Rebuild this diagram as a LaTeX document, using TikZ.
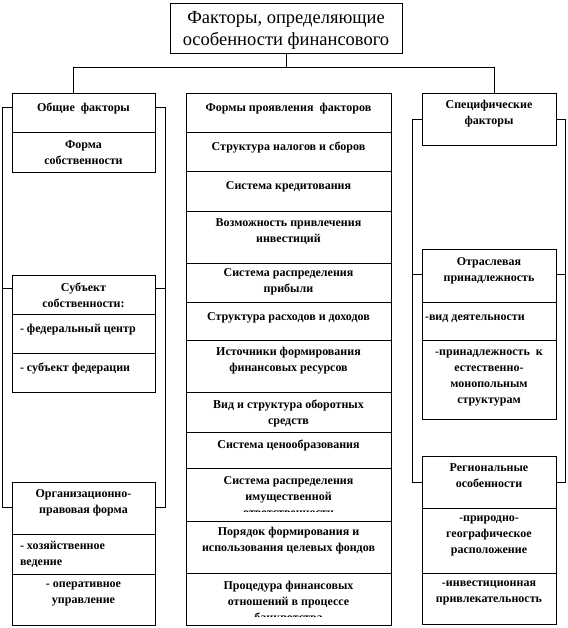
\documentclass[tikz,border=0pt]{standalone}
\usepackage{fontspec}
\setmainfont{Liberation Serif}
\newcommand\mkcell[5]{%
  \node[cellbox, anchor=north west, minimum width={#4-#2}, minimum height={#5-#3}] (#1) at (#2,#3) {};}
\begin{document}
\begin{tikzpicture}[x=1pt,y=-1pt, line width=0.8pt,
  cellbox/.style={draw, rectangle, inner sep=0pt, outer sep=0pt},
  ctext/.style={inner sep=0pt, outer sep=0pt, align=center,
    font=\bfseries\fontsize{12}{16}\selectfont, execute at begin node=\strut},
  ltext/.style={ctext, align=left},
  ttext/.style={inner sep=0pt, outer sep=0pt, align=center,
    font=\fontsize{18.5}{22}\selectfont},
  conn/.style={line width=0.8pt}]
\useasboundingbox (0,0) rectangle (567,628);

% title
\node[cellbox, anchor=north west, minimum width=232, minimum height=50] (title) at (170,3) {};
\node[ttext] (title-t) at ([yshift=-2pt]title.center) {Факторы, определяющие\\особенности финансового};

% left column
\mkcell{a1}{12}{93}{155}{132}
\mkcell{a2}{12}{132}{155}{172}
\mkcell{b1}{12}{275}{155}{314}
\mkcell{b2}{12}{314}{155}{353}
\mkcell{b3}{12}{353}{155}{392}
\mkcell{c1}{12}{482}{155}{534}
\mkcell{c2}{12}{534}{155}{574}
\mkcell{c3}{12}{574}{155}{625}
\node[ctext, anchor=north] (a1-t) at ([yshift=-7.5pt]a1.north) {Общие \ факторы};
\node[ctext, anchor=north] (a2-t) at ([yshift=-8.5pt]a2.north) {Форма\\собственности};
\node[ctext, anchor=north] (b1-t) at ([yshift=-7.5pt]b1.north) {Субъект\\собственности:};
\node[ltext, anchor=north west] (b2-t) at ([xshift=8pt,yshift=-7.5pt]b2.north west) {- федеральный центр};
\node[ltext, anchor=north west] (b3-t) at ([xshift=8pt,yshift=-7.5pt]b3.north west) {- субъект федерации};
\node[ctext, anchor=north] (c1-t) at ([yshift=-7.5pt]c1.north) {Организационно-\\правовая форма};
\node[ltext, anchor=north west] (c2-t) at ([xshift=8pt,yshift=-7.5pt]c2.north west) {- хозяйственное\\ведение};
\node[ctext, anchor=north] (c3-t) at ([yshift=-7.5pt]c3.north) {- оперативное\\управление};

% center column
\mkcell{m1}{186}{93}{391}{132}
\mkcell{m2}{186}{132}{391}{171}
\mkcell{m3}{186}{171}{391}{211}
\mkcell{m4}{186}{211}{391}{263}
\mkcell{m5}{186}{263}{391}{302}
\mkcell{m6}{186}{302}{391}{340}
\mkcell{m7}{186}{340}{391}{392}
\mkcell{m8}{186}{392}{391}{432}
\mkcell{m9}{186}{432}{391}{468}
\mkcell{m10}{186}{468}{391}{521}
\mkcell{m11}{186}{521}{391}{573}
\mkcell{m12}{186}{573}{391}{625}
\node[ctext, anchor=north] (m1-t) at ([yshift=-7.5pt]m1.north) {Формы проявления \ факторов};
\node[ctext, anchor=north] (m2-t) at ([yshift=-7.5pt]m2.north) {Структура налогов и сборов};
\node[ctext, anchor=north] (m3-t) at ([yshift=-7.5pt]m3.north) {Система кредитования};
\node[ctext, anchor=north] (m4-t) at ([yshift=-7.5pt]m4.north) {Возможность привлечения\\инвестиций};
\node[ctext, anchor=north] (m5-t) at ([yshift=-5.5pt]m5.north) {Система распределения\\прибыли};
\node[ctext, anchor=north] (m6-t) at ([yshift=-7.5pt]m6.north) {Структура расходов и доходов};
\node[ctext, anchor=north] (m7-t) at ([yshift=-7.5pt]m7.north) {Источники формирования\\финансовых ресурсов};
\node[ctext, anchor=north] (m8-t) at ([yshift=-7.5pt]m8.north) {Вид и структура оборотных\\средств};
\node[ctext, anchor=north] (m9-t) at ([yshift=-5pt]m9.north) {Система ценообразования};
\begin{scope}
  \clip (186,468) rectangle (391,511);
  \node[ctext, anchor=north] (m10-t) at ([yshift=-8.5pt]m10.north) {Система распределения\\имущественной\\ответственности};
\end{scope}
\node[ctext, anchor=north] (m11-t) at ([yshift=-6pt]m11.north) {Порядок формирования и\\использования целевых фондов};
\begin{scope}
  \clip (186,573) rectangle (391,616);
  \node[ctext, anchor=north] (m12-t) at ([yshift=-8.5pt]m12.north) {Процедура финансовых\\отношений в процессе\\банкротства};
\end{scope}

% right column
\mkcell{d1}{422}{93}{556}{145}
\mkcell{e1}{422}{249}{556}{302}
\mkcell{e2}{422}{302}{556}{340}
\mkcell{e3}{422}{340}{556}{419}
\mkcell{f1}{422}{456}{556}{508}
\mkcell{f2}{422}{508}{556}{573}
\mkcell{f3}{422}{573}{556}{624}
\node[ctext, anchor=north] (d1-t) at ([yshift=-7.5pt]d1.north) {Специфические\\факторы};
\node[ctext, anchor=north] (e1-t) at ([yshift=-8.5pt]e1.north) {Отраслевая\\принадлежность};
\node[ltext, anchor=north west] (e2-t) at ([xshift=3pt,yshift=-7.5pt]e2.north west) {-вид деятельности};
\node[ctext, anchor=north] (e3-t) at ([yshift=-10pt]e3.north) {-принадлежность \ к\\естественно-\\монопольным\\структурам};
\node[ctext, anchor=north] (f1-t) at ([yshift=-7.5pt]f1.north) {Региональные\\особенности};
\node[ctext, anchor=north] (f2-t) at ([yshift=-7.5pt]f2.north) {-природно-\\географическое\\расположение};
\node[ctext, anchor=north] (f3-t) at ([yshift=-7.5pt]f3.north) {-инвестиционная\\привлекательность};

% connectors
\coordinate (hl) at (73,67);
\coordinate (hr) at (494,67);
\draw[conn] (title.south) -- (title.south |- hl);
\draw[conn] (hl) -- (hr);
\draw[conn] (hl) -- (hl |- a1.north);
\draw[conn] (hr) -- (hr |- d1.north);

% left brackets
\coordinate (lL1) at (2,107);
\coordinate (lL2) at (2,288);
\coordinate (lL3) at (2,507);
\coordinate (lR1) at (165,107);
\coordinate (lR2) at (165,288);
\coordinate (lR3) at (165,507);
\draw[conn] (a1.west |- lL1) -- (lL1) -- (lL3) -- (c1.west |- lL3);
\draw[conn] (b1.west |- lL2) -- (lL2);
\draw[conn] (a1.east |- lR1) -- (lR1) -- (lR3) -- (c1.east |- lR3);
\draw[conn] (b1.east |- lR2) -- (lR2);

% right brackets
\coordinate (rL1) at (412,119);
\coordinate (rL2) at (412,274);
\coordinate (rL3) at (412,482);
\coordinate (rR1) at (565,119);
\coordinate (rR2) at (565,274);
\coordinate (rR3) at (565,482);
\draw[conn] (d1.west |- rL1) -- (rL1) -- (rL3) -- (f1.west |- rL3);
\draw[conn] (e1.west |- rL2) -- (rL2);
\draw[conn] (d1.east |- rR1) -- (rR1) -- (rR3) -- (f1.east |- rR3);
\draw[conn] (e1.east |- rR2) -- (rR2);
\end{tikzpicture}
\end{document}
